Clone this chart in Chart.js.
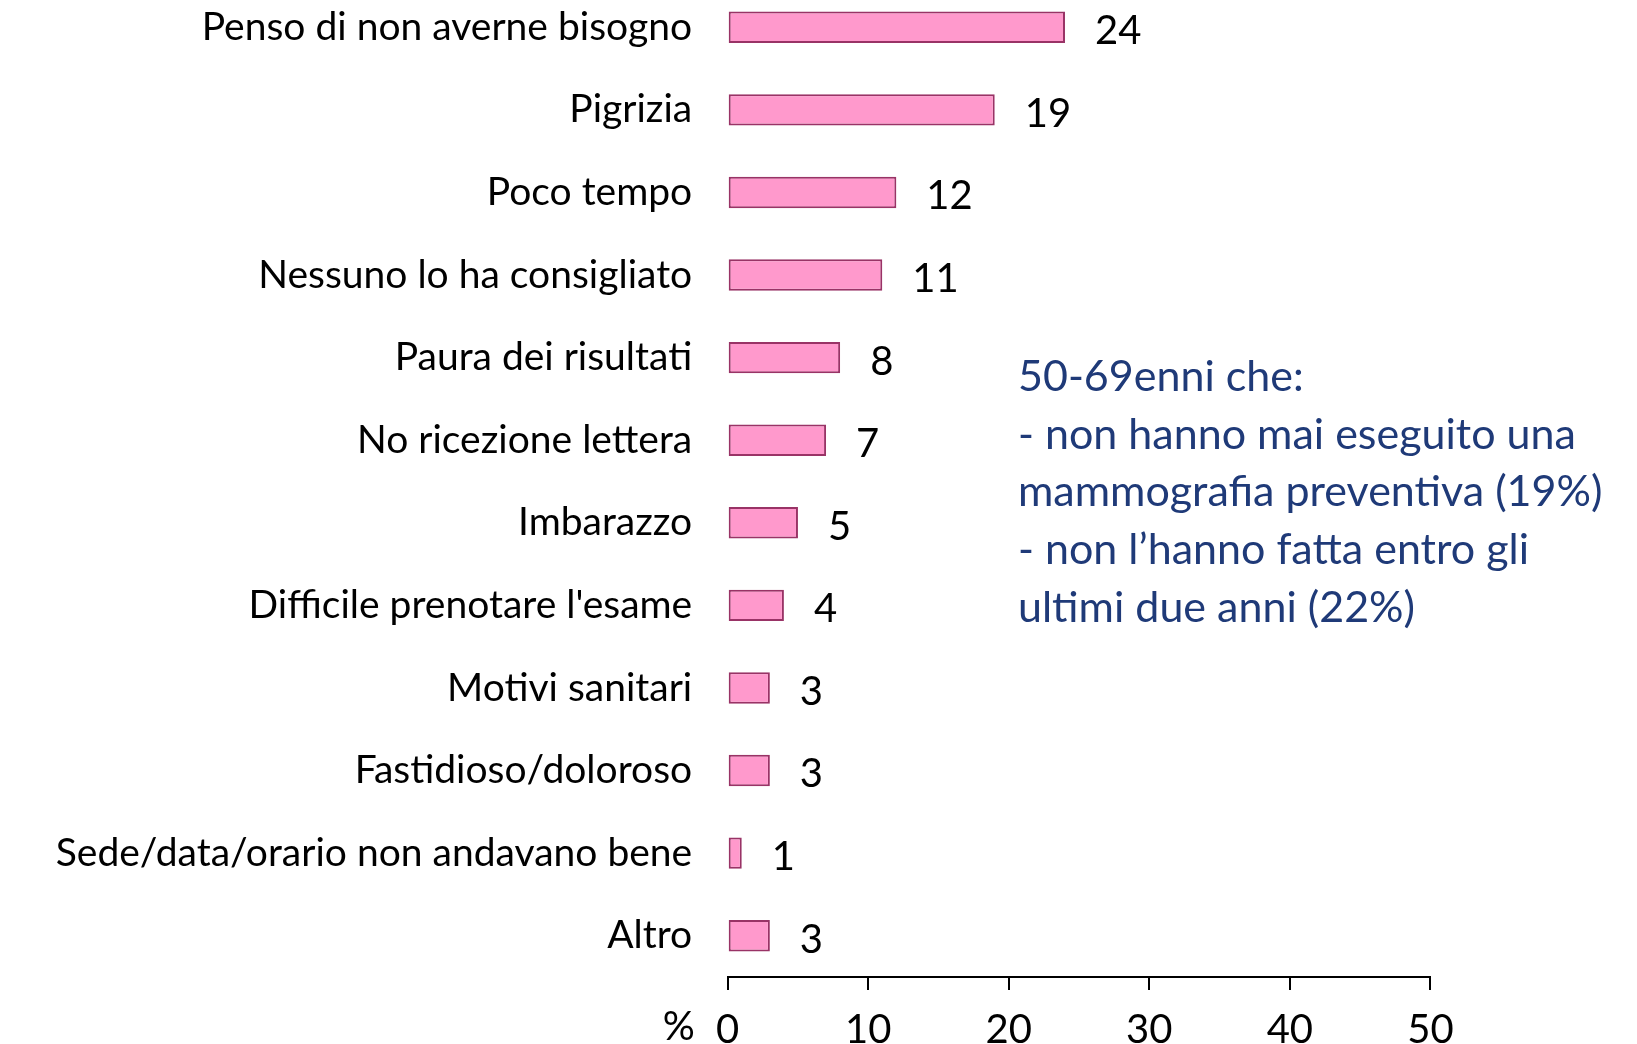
<!DOCTYPE html>
<html>
<head>
<meta charset="utf-8">
<script src="https://cdn.jsdelivr.net/npm/chart.js@4.4.0/dist/chart.umd.min.js"></script>
<style>
  html, body { margin: 0; padding: 0; background: #fff; overflow: hidden; }
  #wrap { position: absolute; left: 0; top: -40px; width: 1637px; height: 1084px; }
  #note {
    position: absolute; left: 1018px; top: 346px;
    font-family: Lato, sans-serif; font-size: 43px; line-height: 57.7px;
    color: #1f3a78; white-space: nowrap;
  }
</style>
</head>
<body>
<div id="wrap"><canvas id="chart" width="1637" height="1084"></canvas></div>
<div id="note">50-69enni che:<br>- non hanno mai eseguito una<br>mammografia preventiva (19%)<br>- non l’hanno fatta entro gli<br>ultimi due anni (22%)</div>
<script>
const categories = [
  "Penso di non averne bisogno",
  "Pigrizia",
  "Poco tempo",
  "Nessuno lo ha consigliato",
  "Paura dei risultati",
  "No ricezione lettera",
  "Imbarazzo",
  "Difficile prenotare l'esame",
  "Motivi sanitari",
  "Fastidioso/doloroso",
  "Sede/data/orario non andavano bene",
  "Altro"
];
const values = [24, 19, 12, 11, 8, 7, 5, 4, 3, 3, 1, 3];
const xTicks = [0, 10, 20, 30, 40, 50];

const font = "Lato, sans-serif";

// value labels at bar ends + the "%" before the x axis
const labelsPlugin = {
  id: "labels",
  afterDatasetsDraw(chart) {
    const { ctx, scales } = chart;
    const meta = chart.getDatasetMeta(0);
    ctx.save();
    ctx.fillStyle = "#000";
    ctx.font = `40px ${font}`;
    ctx.textAlign = "left";
    ctx.textBaseline = "middle";
    meta.data.forEach((bar, i) => {
      ctx.fillText(String(values[i]), bar.x + 30, bar.y + 4);
    });
    ctx.textAlign = "center";
    const x0 = scales.x.getPixelForValue(0);
    ctx.fillText("%", x0 - 49, 1067);
    ctx.restore();
  }
};

new Chart(document.getElementById("chart"), {
  type: "bar",
  data: {
    labels: categories,
    datasets: [{
      data: values,
      backgroundColor: "#ff99cc",
      borderColor: "#993366",
      borderWidth: 2,
      borderSkipped: false,
      barPercentage: 0.38,
      categoryPercentage: 1
    }]
  },
  options: {
    indexAxis: "y",
    responsive: false,
    animation: false,
    layout: { padding: { top: 26, left: 0, right: 206.6, bottom: 0 } },
    plugins: { legend: { display: false }, tooltip: { enabled: false } },
    scales: {
      y: {
        grid: { display: false },
        border: { display: false },
        ticks: { color: "#000", font: { family: font, size: 39 }, padding: 27.5 },
        afterFit(scale) {
          scale.width = 727.7;
          scale.paddingTop = 0;
          scale.paddingBottom = 0;
        }
      },
      x: {
        min: 0,
        max: 50,
        afterBuildTicks(scale) { scale.ticks = xTicks.map((v) => ({ value: v })); },
        grid: { drawOnChartArea: false, color: "#000", tickLength: 13, lineWidth: 2 },
        border: { display: true, color: "#000", width: 2 },
        ticks: { color: "#000", font: { family: font, size: 40 }, padding: 16, maxRotation: 0 },
        afterFit(scale) { scale.height = 67; }
      }
    }
  },
  plugins: [labelsPlugin]
});
</script>
</body>
</html>
